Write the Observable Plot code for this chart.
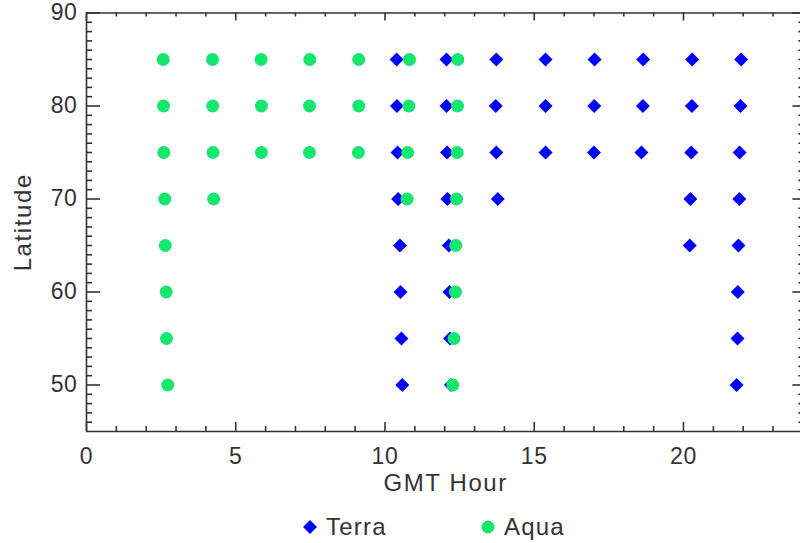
<!DOCTYPE html>
<html>
<head>
<meta charset="utf-8">
<script src="https://cdn.jsdelivr.net/npm/d3@7"></script>
<script src="https://cdn.jsdelivr.net/npm/@observablehq/plot@0.6"></script>
<style>
  html, body { margin: 0; padding: 0; background: #fff; }
  #wrap { position: relative; width: 800px; height: 543px; font-family: "Liberation Sans", Arial, Helvetica, sans-serif; }
  #legend { position: absolute; left: 0; top: 508px; width: 800px; height: 38px; color: #333; font-size: 24px; letter-spacing: 1.2px; }
  .item { position: absolute; top: 0; height: 38px; display: flex; align-items: center; }
  .item svg { margin-right: 8px; }
  #chart text { letter-spacing: 0.6px; }
  #chart g.ttl text { letter-spacing: 1.6px; }
</style>
</head>
<body>
<div id="wrap">
  <div id="chart"></div>
  <div id="legend"></div>
</div>
<script>
// ---- data ----
const seriesNames = ["Terra", "Aqua"];
const seriesColors = ["#0000ff", "#14e66e"];

const terraHour = [
  10.39, 10.40, 10.42, 10.44, 10.50, 10.52, 10.55, 10.58,
  12.06, 12.06, 12.08, 12.09, 12.14, 12.16, 12.18, 12.21,
  13.73, 13.71, 13.73, 13.78,
  15.38, 15.38, 15.38,
  17.02, 17.01, 17.00,
  18.65, 18.64, 18.59,
  20.29, 20.28, 20.26, 20.23, 20.21,
  21.93, 21.91, 21.88, 21.87, 21.84, 21.82, 21.81, 21.78
];
const terraLat = [
  85, 80, 75, 70, 65, 60, 55, 50,
  85, 80, 75, 70, 65, 60, 55, 50,
  85, 80, 75, 70,
  85, 80, 75,
  85, 80, 75,
  85, 80, 75,
  85, 80, 75, 70, 65,
  85, 80, 75, 70, 65, 60, 55, 50
];
const aquaHour = [
  2.57, 2.58, 2.59, 2.62, 2.64, 2.67, 2.68, 2.72,
  4.22, 4.23, 4.24, 4.26,
  5.85, 5.86, 5.86,
  7.48, 7.47, 7.47,
  9.12, 9.12, 9.11,
  10.82, 10.80, 10.76, 10.74,
  12.44, 12.43, 12.42, 12.40, 12.37, 12.36, 12.31, 12.27
];
const aquaLat = [
  85, 80, 75, 70, 65, 60, 55, 50,
  85, 80, 75, 70,
  85, 80, 75,
  85, 80, 75,
  85, 80, 75,
  85, 80, 75, 70,
  85, 80, 75, 70, 65, 60, 55, 50
];

const xMajorTicks = [0, 5, 10, 15, 20];
const xMinorTicks = [1, 2, 3, 4, 6, 7, 8, 9, 11, 12, 13, 14, 16, 17, 18, 19, 21, 22, 23];
const yMajorTicks = [50, 60, 70, 80, 90];
const yMinorTicks = [46, 47, 48, 49, 51, 52, 53, 54, 55, 56, 57, 58, 59, 61, 62, 63, 64, 65, 66, 67, 68, 69,
                     71, 72, 73, 74, 75, 76, 77, 78, 79, 81, 82, 83, 84, 85, 86, 87, 88, 89];
const xLabel = "GMT Hour";
const yLabel = "Latitude";

// ---- build ----
const terra = terraHour.map((h, i) => ({hour: h, lat: terraLat[i]}));
const aqua = aquaHour.map((h, i) => ({hour: h, lat: aquaLat[i]}));

const W = 800, H = 505;
const mL = 86, mR = -2.4, mT = 12.5, mB = 74;
const fw = W - mL - mR, fh = H - mT - mB;
const axisColor = "#333";
const sw = 1.6;

const chart = Plot.plot({
  width: W,
  height: H,
  marginLeft: mL,
  marginRight: mR,
  marginTop: mT,
  marginBottom: mB,
  style: {fontFamily: "'Liberation Sans', Arial, Helvetica, sans-serif", fontSize: "23px", color: "#333", background: "#fff", overflow: "visible"},
  x: {domain: [0, 24]},
  y: {domain: [45, 90]},
  marks: [
    // axis lines (right edge is cropped in the reference)
    Plot.ruleX([0], {stroke: axisColor, strokeWidth: sw}),
    Plot.ruleY([45, 90], {stroke: axisColor, strokeWidth: sw}),
    // bottom ticks
    Plot.tickX(xMajorTicks, {x: d => d, insetTop: fh - 9, stroke: axisColor, strokeWidth: sw}),
    Plot.tickX(xMinorTicks, {x: d => d, insetTop: fh - 5, stroke: axisColor, strokeWidth: sw}),
    // top ticks
    Plot.tickX(xMajorTicks, {x: d => d, insetBottom: fh - 8, stroke: axisColor, strokeWidth: sw}),
    Plot.tickX(xMinorTicks, {x: d => d, insetBottom: fh - 4, stroke: axisColor, strokeWidth: sw}),
    // left ticks
    Plot.tickY(yMajorTicks, {y: d => d, insetRight: fw - 14, stroke: axisColor, strokeWidth: sw}),
    Plot.tickY(yMinorTicks, {y: d => d, insetRight: fw - 6, stroke: axisColor, strokeWidth: sw}),
    // right ticks
    Plot.tickY(yMajorTicks, {y: d => d, insetLeft: fw - 10, stroke: axisColor, strokeWidth: sw}),
    Plot.tickY(yMinorTicks, {y: d => d, insetLeft: fw - 4, stroke: axisColor, strokeWidth: sw}),
    // tick labels
    Plot.axisX({ticks: xMajorTicks, tickSize: 0, tickPadding: 16, label: null, fontSize: 23, fill: "#333"}),
    Plot.axisY({ticks: yMajorTicks, tickSize: 0, tickPadding: 9, label: null, fontSize: 23, fill: "#333"}),
    // axis titles
    Plot.text([xLabel], {frameAnchor: "bottom", text: d => d, dx: 1, dy: 52, lineAnchor: "middle", textAnchor: "middle", fontSize: 24, fill: "#333", className: "ttl"}),
    Plot.text([yLabel], {frameAnchor: "left", text: d => d, rotate: -90, dx: -63, lineAnchor: "middle", textAnchor: "middle", fontSize: 24, fill: "#333", className: "ttl"}),
    // data
    Plot.dot(terra, {x: "hour", y: "lat", symbol: "diamond2", r: 6.3, fill: seriesColors[0], stroke: "none"}),
    Plot.dot(aqua, {x: "hour", y: "lat", symbol: "circle", r: 6.5, fill: seriesColors[1], stroke: "none"})
  ]
});
document.getElementById("chart").appendChild(chart);

// ---- legend below the chart ----
const legend = document.getElementById("legend");
const legendX = [302, 480];
seriesNames.forEach((name, i) => {
  const item = document.createElement("div");
  item.className = "item";
  item.style.left = legendX[i] + "px";
  const shape = i === 0
    ? `<svg width="16" height="16" viewBox="0 0 16 16"><polygon points="8,1 15,8 8,15 1,8" fill="${seriesColors[i]}"/></svg>`
    : `<svg width="16" height="16" viewBox="0 0 16 16"><circle cx="8" cy="8" r="6.5" fill="${seriesColors[i]}"/></svg>`;
  item.innerHTML = shape + `<span>${name}</span>`;
  legend.appendChild(item);
});
</script>
</body>
</html>
